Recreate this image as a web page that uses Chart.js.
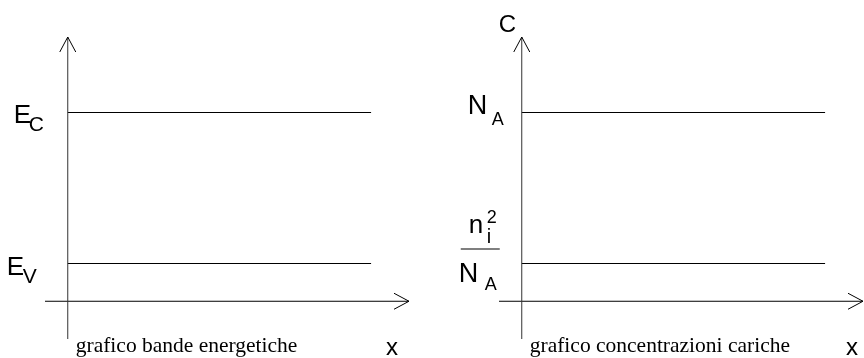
<!DOCTYPE html>
<html>
<head>
<meta charset="utf-8">
<script src="https://cdn.jsdelivr.net/npm/chart.js@4.4.1/dist/chart.umd.min.js"></script>
<style>
  html, body { margin: 0; padding: 0; background: #fff; }
  body { width: 864px; height: 358px; position: relative; overflow: hidden; }
  .panel { position: absolute; top: 0; width: 432px; height: 358px; }
  #leftPanel { left: 0; }
  #rightPanel { left: 432px; }
</style>
</head>
<body>
<div class="panel" id="leftPanel"><canvas id="bandChart"></canvas></div>
<div class="panel" id="rightPanel"><canvas id="concChart"></canvas></div>
<script>
// schematic values (arbitrary units)
const levelSpan = [0, 10];          // horizontal levels start / stop
const xAxisSpan = [-0.75, 11.25];   // horizontal axis, arrow at the end
const yAxisSpan = [-1, 7];          // vertical axis, arrow at the top
const bandLevels = [5, 1];          // E_C, E_V
const concLevels = [5, 1];          // N_A, n_i^2 / N_A

const SANS = '"Liberation Sans", Arial, sans-serif';
const SERIF = '"Liberation Serif", "Times New Roman", serif';

// arrows + labels, everything placed from the scales
const sketchPlugin = {
    id: 'sketch',
    afterDatasetsDraw(chart, args, opts) {
        const ctx = chart.ctx;
        const xs = chart.scales.x;
        const ys = chart.scales.y;
        const ox = xs.getPixelForValue(0);
        const oy = ys.getPixelForValue(0);
        const tipY = ys.getPixelForValue(yAxisSpan[1]);
        const tipX = xs.getPixelForValue(xAxisSpan[1]);

        ctx.save();
        ctx.strokeStyle = '#000';
        ctx.lineWidth = 1;
        ctx.beginPath();
        ctx.moveTo(ox - 8, tipY + 15);
        ctx.lineTo(ox, tipY);
        ctx.lineTo(ox + 8, tipY + 15);
        ctx.moveTo(tipX - 15, oy - 8);
        ctx.lineTo(tipX, oy);
        ctx.lineTo(tipX - 15, oy + 8);
        ctx.stroke();

        const anchor = (ref) => {
            if (ref === 'top') return [ox, tipY];
            if (ref === 'tip') return [tipX, oy];
            if (ref === 'origin') return [ox, oy];
            return [ox, ys.getPixelForValue(opts.levels[ref])];
        };

        ctx.fillStyle = '#000';
        ctx.textAlign = 'left';
        ctx.textBaseline = 'alphabetic';
        opts.texts.forEach(t => {
            const [ax, ay] = anchor(t.ref);
            if (t.bar) {
                ctx.fillRect(ax + t.bar[0], ay + t.dy, t.bar[1] - t.bar[0], 1);
                return;
            }
            ctx.font = t.font;
            ctx.fillText(t.text, ax + t.dx, ay + t.dy);
        });
        ctx.restore();
    }
};

function buildChart(id, levels, texts) {
    const datasets = [
        { data: [{ x: 0, y: yAxisSpan[0] }, { x: 0, y: yAxisSpan[1] }], borderColor: '#333' },
        { data: [{ x: xAxisSpan[0], y: 0 }, { x: xAxisSpan[1], y: 0 }], borderColor: '#000' }
    ];
    levels.forEach(v => {
        datasets.push({ data: [{ x: levelSpan[0], y: v }, { x: levelSpan[1], y: v }], borderColor: '#000' });
    });
    datasets.forEach(d => {
        d.borderWidth = 1;
        d.pointRadius = 0;
        d.clip = false;
    });

    return new Chart(document.getElementById(id), {
        type: 'line',
        data: { datasets: datasets },
        options: {
            responsive: true,
            maintainAspectRatio: false,
            animation: false,
            layout: { padding: { left: id === 'bandChart' ? 45 : 67, right: id === 'bandChart' ? 23 : 1, top: 37, bottom: 19 } },
            scales: {
                x: { type: 'linear', display: false, min: xAxisSpan[0], max: xAxisSpan[1] },
                y: { type: 'linear', display: false, min: yAxisSpan[0], max: yAxisSpan[1] }
            },
            plugins: {
                legend: { display: false },
                tooltip: { enabled: false },
                sketch: { levels: levels, texts: texts }
            }
        },
        plugins: [sketchPlugin]
    });
}

buildChart('bandChart', bandLevels, [
    { text: 'E', font: '26px ' + SANS, ref: 0, dx: -54, dy: 10 },
    { text: 'C', font: '21px ' + SANS, ref: 0, dx: -39, dy: 18 },
    { text: 'E', font: '26px ' + SANS, ref: 1, dx: -61, dy: 11 },
    { text: 'V', font: '21px ' + SANS, ref: 1, dx: -45, dy: 19 },
    { text: 'x', font: '24px ' + SANS, ref: 'tip', dx: -23, dy: 54 },
    { text: 'grafico bande energetiche', font: '21.5px ' + SERIF, ref: 'origin', dx: 8, dy: 51 }
]);

buildChart('concChart', concLevels, [
    { text: 'C', font: '24px ' + SANS, ref: 'top', dx: -23, dy: -5 },
    { text: 'N', font: '27px ' + SANS, ref: 0, dx: -54, dy: 1 },
    { text: 'A', font: '18px ' + SANS, ref: 0, dx: -30, dy: 12 },
    { text: 'n', font: '26px ' + SANS, ref: 1, dx: -53, dy: -31 },
    { text: 'i', font: '20px ' + SANS, ref: 1, dx: -35, dy: -21 },
    { text: '2', font: '18px ' + SANS, ref: 1, dx: -35, dy: -41 },
    { bar: [-61, -22], ref: 1, dy: -15 },
    { text: 'N', font: '27px ' + SANS, ref: 1, dx: -63, dy: 18 },
    { text: 'A', font: '18px ' + SANS, ref: 1, dx: -37, dy: 26 },
    { text: 'x', font: '24px ' + SANS, ref: 'tip', dx: -17, dy: 54 },
    { text: 'grafico concentrazioni cariche', font: '21.5px ' + SERIF, ref: 'origin', dx: 8, dy: 51 }
]);
</script>
</body>
</html>
